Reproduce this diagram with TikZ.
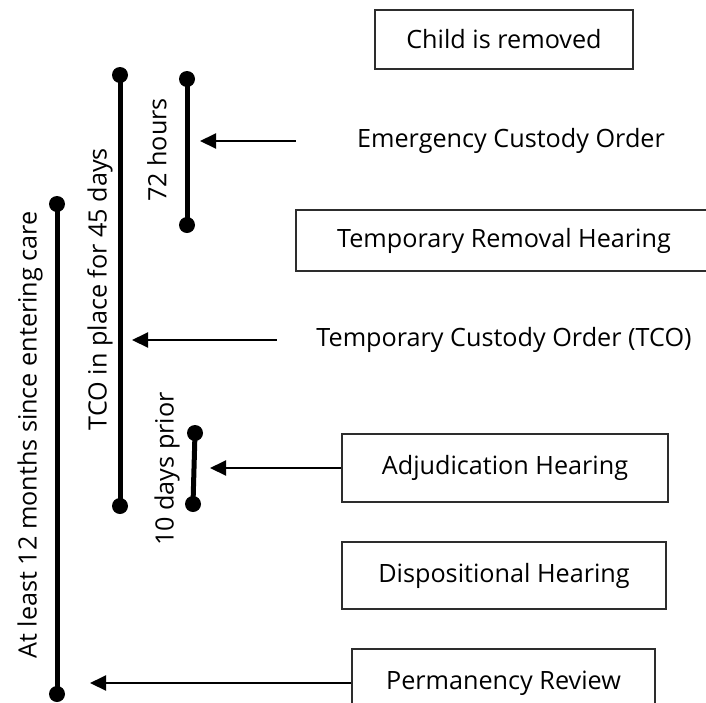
\documentclass[tikz,border=0pt]{standalone}
\usepackage{fontspec}
\setmainfont{Open Sans}
\usepackage{tikz}
\usetikzlibrary{arrows.meta}
\definecolor{boxink}{RGB}{45, 45, 45}

\begin{document}
\begin{tikzpicture}[x=0.5pt, y=-0.5pt, font=\fontsize{12.6}{15}\selectfont,
  stepbox/.style={draw=boxink, line width=0.6pt, inner sep=0pt},
  bar/.style={line width=2.5pt},
  pointer/.style={-{Triangle[length=8pt, width=7.5pt]}, line width=1pt}]
  \useasboundingbox (0,0) rectangle (706,702);
  % events on the right
  \node[stepbox, minimum width=129pt, minimum height=29.5pt] (removed) at (504,39.5) {Child is removed};
  \node[minimum width=215pt] (eco) at (511,141) {Emergency Custody Order};
  \node[stepbox, minimum width=208pt, minimum height=30.5pt] (trh) at (504,240.5) {Temporary Removal Hearing\hspace{13pt}};
  \node[minimum width=227pt] (tco) at (504,340) {Temporary Custody Order (TCO)};
  \node[stepbox, minimum width=163pt, minimum height=34pt] (adj) at (505,468) {Adjudication Hearing};
  \node[stepbox, minimum width=162pt, minimum height=33.5pt] (disp) at (504,575.5) {Dispositional Hearing};
  \node[stepbox, minimum width=151.5pt, minimum height=34pt] (perm) at (503.5,683) {Permanency Review};
  % time spans on the left
  \coordinate (year top) at (57,204);  \coordinate (year bot) at (57,694);
  \coordinate (days45 top) at (120,75); \coordinate (days45 bot) at (120,506);
  \coordinate (hrs top) at (187,79);   \coordinate (hrs bot) at (187,225);
  \coordinate (prior top) at (195,433); \coordinate (prior bot) at (193,504);
  \draw[bar] (year top) -- (year bot);
  \draw[bar] (days45 top) -- (days45 bot);
  \draw[bar] (hrs top) -- (hrs bot);
  \draw[bar] (prior top) -- (prior bot);
  \fill (year top) circle (4pt); \fill (year bot) circle (4pt);
  \fill (days45 top) circle (4pt); \fill (days45 bot) circle (4pt);
  \fill (hrs top) circle (4pt); \fill (hrs bot) circle (4pt);
  \fill (prior top) circle (4pt); \fill (prior bot) circle (4pt);
  \node[rotate=90] (year lbl) at (30,435) {At least 12 months since entering care};
  \node[rotate=90] (days45 lbl) at (100,289) {TCO in place for 45 days};
  \node[rotate=90] (hrs lbl) at (157,150) {72 hours};
  \node[rotate=90] (prior lbl) at (167,469) {10 days prior};
  % pointers
  \draw[pointer, shorten >=6.5pt] (eco.west) -- (eco.west -| hrs top);
  \draw[pointer, shorten >=6pt] (tco.west) -- (tco.west -| days45 top);
  \draw[pointer, shorten >=7.5pt] (adj.west) -- (adj.west -| prior top);
  \draw[pointer, shorten >=16.5pt] (perm.west) -- (perm.west -| year bot);
\end{tikzpicture}
\end{document}
